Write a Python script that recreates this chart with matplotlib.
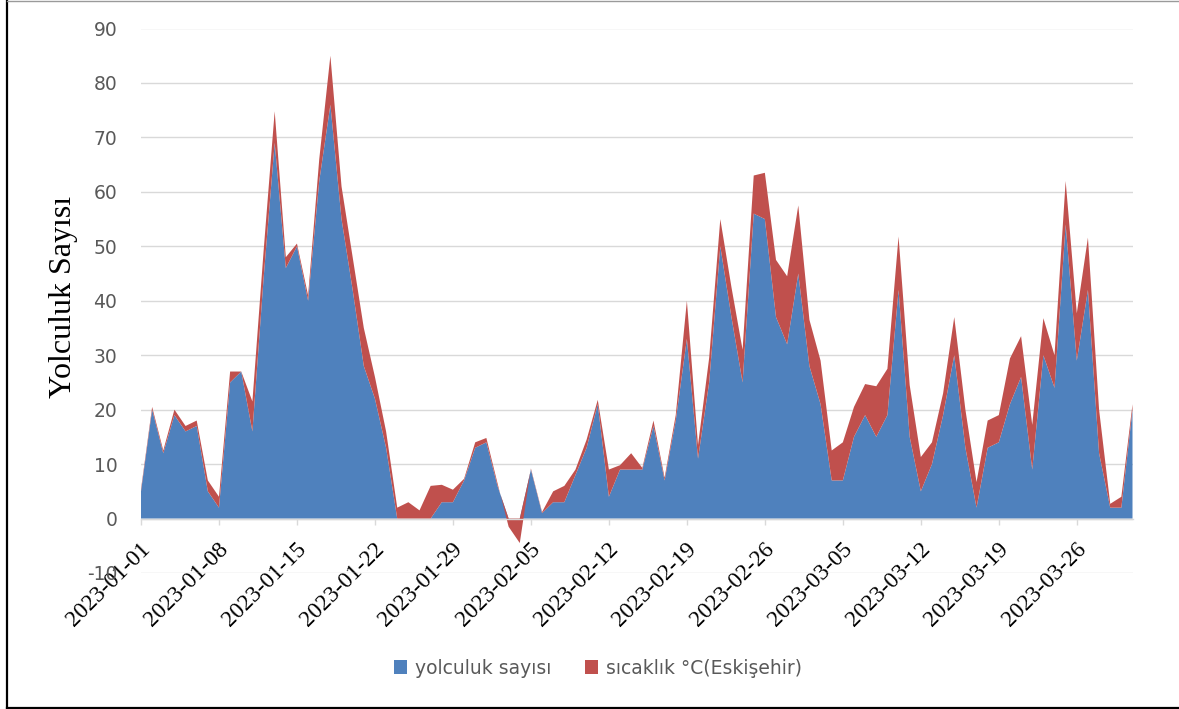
import matplotlib
matplotlib.use("Agg")
import matplotlib.pyplot as plt
from matplotlib.patches import Patch
from matplotlib.lines import Line2D
from matplotlib.transforms import ScaledTranslation
import pandas as pd

plt.rcParams["axes.unicode_minus"] = False

# Daily data, 2023-01-01 .. 2023-03-31
dates = pd.date_range("2023-01-01", "2023-03-31", freq="D")

trips = [
    5, 20, 12, 19, 16, 17, 5, 2, 25, 27,
    16, 44, 69, 46, 50, 40, 62, 76, 55, 42,
    28, 22, 13, 0, 0, 0, 0, 3, 3, 7,
    13, 14, 6, 0, 0, 9, 1, 3, 3, 8,
    13, 21, 4, 9, 9, 9, 17, 7, 18, 33,
    11, 25, 50, 37, 25, 56, 55, 37, 32, 45,
    28, 21, 7, 7, 15, 19, 15, 19, 42, 15,
    5, 10, 19, 30, 13, 2, 13, 14, 21, 26,
    9, 30, 24, 54, 29, 42, 12, 2, 2, 20,
]

temps = [
    0.4, 0.5, 0.5, 1.0, 1.0, 1.0, 2.0, 2.0, 2.0, 0.0,
    5.5, 5.0, 5.8, 2.0, 0.5, 1.0, 4.0, 9.0, 6.0, 6.0,
    7.0, 4.0, 3.0, 2.0, 3.0, 1.5, 6.0, 3.2, 2.3, 0.3,
    1.0, 0.8, 0.5, -1.5, -4.5, 0.2, 0.2, 2.0, 3.0, 1.0,
    1.5, 0.8, 5.0, 0.8, 3.0, 0.3, 1.0, 0.5, 1.0, 7.0,
    2.5, 4.5, 5.0, 5.5, 6.0, 7.0, 8.5, 10.5, 12.5, 12.5,
    8.5, 8.0, 5.5, 7.0, 5.5, 5.7, 9.3, 8.5, 9.8, 9.5,
    6.3, 4.0, 4.0, 7.0, 7.0, 4.7, 5.0, 5.0, 8.4, 7.5,
    8.2, 6.8, 6.0, 8.0, 8.7, 9.6, 8.0, 0.7, 2.0, 1.0,
]

series_names = ["yolculuk sayısı", "sıcaklık °C(Eskişehir)"]
series_colors = ["#4F81BD", "#C0504D"]
y_ticks = list(range(-10, 100, 10))

W, H = 1179, 709
fig = plt.figure(figsize=(W / 100, H / 100), dpi=100)
ax = fig.add_axes([141 / W, 1 - 573 / H, (1132.5 - 141) / W, (573 - 28.5) / H])

ax.stackplot(dates, trips, temps, colors=series_colors, linewidth=0)

ax.set_xlim(dates[0], dates[-1])
ax.set_ylim(-10, 90)
ax.set_yticks(y_ticks)

grid_c = "#D9D9D9"
ax.grid(axis="y", color=grid_c, linewidth=1.0, zorder=0)
ax.set_axisbelow(True)
for side in ("left", "right", "top"):
    ax.spines[side].set_visible(False)
ax.spines["bottom"].set_position(("data", 0))
ax.spines["bottom"].set_color(grid_c)
ax.spines["bottom"].set_linewidth(1.0)

ax.tick_params(axis="y", length=0, pad=17, labelsize=13.5, labelcolor="#595959")
ax.tick_params(axis="x", length=4.5, width=1.0, color=grid_c, direction="out",
               pad=15, labelsize=16.8, labelcolor="black")

tick_dates = dates[::7]
ax.set_xticks(tick_dates)
ax.set_xticklabels([d.strftime("%Y-%m-%d") for d in tick_dates],
                   rotation=45, ha="right", va="center", rotation_mode="anchor",
                   family="Liberation Serif")
shift = ScaledTranslation(6 / 100, 0, fig.dpi_scale_trans)
for lbl in ax.get_xticklabels():
    lbl.set_transform(lbl.get_transform() + shift)

fig.text(63 / W, 1 - 297 / H, "Yolculuk Sayısı", rotation=90, ha="center", va="center",
         family="Liberation Serif", fontsize=23, color="black")

handles = [Patch(facecolor=c, edgecolor="none") for c in series_colors]
fig.legend(handles, series_names, loc="center", bbox_to_anchor=(598 / W, 1 - 668 / H),
           ncol=2, frameon=False, fontsize=13.5, labelcolor="#595959",
           handlelength=0.7, handleheight=0.7, handletextpad=0.4, columnspacing=1.8)

# Outer frame of the chart
fig.add_artist(Line2D([7.5 / W, 7.5 / W], [0, 1], color="black", linewidth=1.6,
                      transform=fig.transFigure))
fig.add_artist(Line2D([7.5 / W, 1], [1.5 / H, 1.5 / H], color="black", linewidth=1.6,
                      transform=fig.transFigure))
fig.add_artist(Line2D([7.5 / W, 1], [1 - 0.5 / H, 1 - 0.5 / H], color="#9A9A9A",
                      linewidth=1.0, transform=fig.transFigure))

fig.savefig("out.png", dpi=100)
